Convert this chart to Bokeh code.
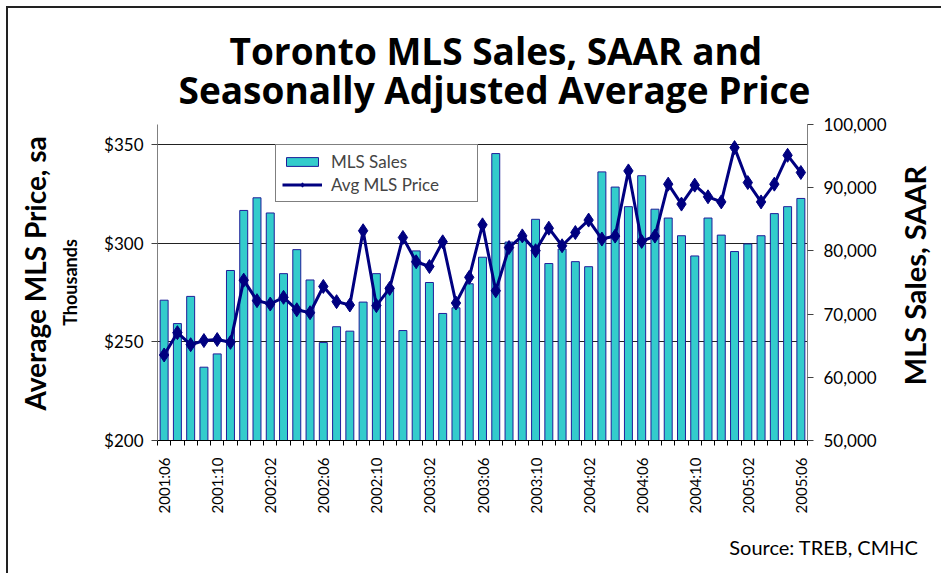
import math
import numpy as np
from bokeh.plotting import figure
from bokeh.models import (Range1d, LinearAxis, FixedTicker, Legend, LegendItem, Label,
                          ColumnDataSource, NumeralTickFormatter, Title)
from bokeh.embed import file_html
from bokeh.resources import INLINE

# ---- data ----
months = [f"{y}:{m:02d}" for y in range(2001, 2006) for m in range(1, 13)][5:5 + 49]

mls_sales = [72200, 68500, 72800, 61600, 63700, 76900, 86400, 88400, 86000, 76400,
             80200, 75400, 65500, 68000, 67300, 71900, 76400, 74300, 67400, 80000,
             75000, 70100, 71000, 74800, 79000, 95400, 81400, 82100, 85000, 78000,
             80300, 78300, 77500, 92500, 90100, 87000, 91900, 86600, 85200, 82400,
             79200, 85200, 82500, 79900, 81100, 82400, 85900, 87000, 88300]

avg_price = [243.3, 254.6, 248.5, 250.6, 251.1, 249.7, 281.2, 270.8, 269.1, 272.5,
             266.2, 264.7, 278.0, 270.3, 268.6, 306.2, 268.3, 277.0, 302.8, 290.5,
             288.1, 300.6, 269.6, 282.6, 309.2, 275.8, 297.7, 303.6, 296.1, 307.5,
             298.6, 305.3, 311.6, 302.0, 303.5, 336.5, 300.8, 303.5, 329.8, 319.7,
             329.3, 323.4, 320.8, 348.3, 330.6, 320.8, 329.8, 344.4, 335.7]

price_ticks = [200, 250, 300, 350]
sales_ticks = [50000, 60000, 70000, 80000, 90000, 100000]

FONT = "Lato"
TFONT = "Open Sans"
NAVY = "#000080"
TURQ = "#33CCCC"

xpos = np.arange(len(months)) + 0.5
src = ColumnDataSource(dict(x=xpos, sales=mls_sales, price=avg_price, month=months))

p = figure(width=935, height=567, output_backend="svg", toolbar_location=None,
           x_range=Range1d(0, len(months)), y_range=Range1d(200, 360),
           min_border_left=149, min_border_right=136, min_border_top=116,
           min_border_bottom=135, title=None)
p.margin = (6, 0, 0, 6)
p.styles = {"border-left": "2px solid #222222", "border-top": "2px solid #222222"}
p.outline_line_color = None
p.background_fill_color = "white"
p.border_fill_color = "white"
p.extra_y_ranges = {"sales": Range1d(50000, 100000)}

# bars
bars = p.vbar(x="x", top="sales", bottom=50000, width=0.6, source=src,
              y_range_name="sales", fill_color=TURQ, line_color="#1f1f99", line_width=1)
# line + markers
ln = p.line(x="x", y="price", source=src, line_color=NAVY, line_width=3)
mk = p.scatter(x="x", y="price", source=src, marker="diamond", size=14,
               fill_color=NAVY, line_color=NAVY)

# x axis
xa = p.xaxis[0]
label_idx = list(range(0, len(months), 4))
xa.ticker = FixedTicker(ticks=[float(xpos[i]) for i in label_idx],
                        minor_ticks=list(range(0, len(months) + 1)))
xa.major_label_overrides = {float(xpos[i]): months[i] for i in label_idx}
xa.major_label_orientation = math.pi / 2
xa.major_tick_out = 0
xa.major_tick_in = 0
xa.minor_tick_out = 5
xa.minor_tick_in = 0
xa.minor_tick_line_color = "black"
xa.axis_line_color = "black"
xa.major_label_text_font = FONT
xa.major_label_text_font_size = "15px"
xa.major_label_text_color = "black"
xa.major_label_standoff = 12

# left axis
ya = p.yaxis[0]
ya.ticker = FixedTicker(ticks=price_ticks)
ya.formatter = NumeralTickFormatter(format="$0")
ya.major_tick_out = 6
ya.major_tick_in = 0
ya.minor_tick_line_color = None
ya.axis_line_color = "#808080"
ya.major_tick_line_color = "#404040"
ya.major_label_text_font = FONT
ya.major_label_text_font_size = "17px"
ya.major_label_text_color = "black"
ya.major_label_standoff = 8
ya.axis_label = "Thousands"
ya.axis_label_text_font = FONT
ya.axis_label_text_font_size = "18px"
ya.axis_label_text_font_style = "bold"
ya.axis_label_text_color = "black"
ya.axis_label_standoff = 20

# right axis
ra = LinearAxis(y_range_name="sales", ticker=FixedTicker(ticks=sales_ticks),
                formatter=NumeralTickFormatter(format="0,0"))
ra.major_tick_out = 6
ra.major_tick_in = 0
ra.minor_tick_line_color = None
ra.axis_line_color = "#808080"
ra.major_tick_line_color = "#404040"
ra.major_label_text_font = FONT
ra.major_label_text_font_size = "17px"
ra.major_label_text_color = "black"
ra.major_label_standoff = 10
p.add_layout(ra, "right")
p.add_layout(Label(x=25, y=165, x_units="screen", y_units="screen",
                   text="MLS Sales, SAAR", angle=math.pi / 2,
                   text_align="center", text_baseline="alphabetic",
                   text_font=FONT, text_font_size="29px", text_font_style="bold",
                   text_color="black"), "right")

# grid
p.xgrid.visible = False
p.ygrid.ticker = FixedTicker(ticks=price_ticks[1:])
p.ygrid.grid_line_color = "#222222"
p.ygrid.grid_line_width = 1

# legend
legend = Legend(items=[LegendItem(label="MLS Sales", renderers=[bars]),
                       LegendItem(label="Avg MLS Price", renderers=[ln, mk])],
                location=(118, 238), orientation="vertical",
                border_line_color="black", border_line_width=1,
                background_fill_color="white", background_fill_alpha=1,
                label_text_font=FONT, label_text_font_size="17px",
                glyph_width=40, glyph_height=11, label_height=20, label_width=140,
                spacing=2, padding=6, margin=0, label_standoff=9)
p.add_layout(legend, "center")

# titles (line 2 closest to the frame, line 1 above it)
p.add_layout(Title(text="Seasonally Adjusted Average Price", align="left", offset=21,
                   text_font=TFONT, text_font_size="37px", text_font_style="bold",
                   text_color="black", standoff=19), "above")
p.add_layout(Title(text="Toronto MLS Sales, SAAR and", align="left", offset=72,
                   text_font=TFONT, text_font_size="37px", text_font_style="bold",
                   text_color="black", standoff=-47), "above")
p.add_layout(Title(text="Average MLS Price, sa", align="left", offset=30,
                   text_font=FONT, text_font_size="28px", text_font_style="bold",
                   text_color="black", standoff=10), "left")
p.add_layout(Title(text="Source: TREB, CMHC", align="right", offset=-111,
                   text_font=FONT, text_font_size="20px", text_font_style="normal",
                   text_color="black", standoff=32), "below")

open("out.html", "w").write(file_html(p, INLINE))
